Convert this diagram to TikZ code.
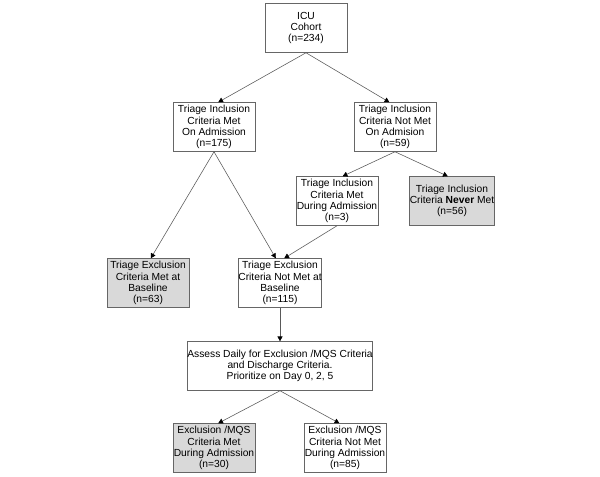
\documentclass[tikz,border=0pt]{standalone}
\usepackage{fontspec}
\setmainfont{Liberation Sans}
\usetikzlibrary{arrows.meta}

\begin{document}
\begin{tikzpicture}[x=0.025cm, y=-0.025cm,
  box/.style={draw=gray!80!black, fill=white, line width=0.5pt, minimum width=2.05cm, minimum height=1.22cm,
    inner sep=0pt, align=center, font=\fontsize{7.3}{8}\selectfont},
  shaded/.style={box, fill=gray!30},
  arr/.style={draw=black!65, line width=0.4pt, -{Triangle[length=3.4pt,width=3.6pt,color=black]}}]
  \useasboundingbox (0,0) rectangle (600,476);
  % boxes, coordinates in pixels of the original figure
  \node[box] (icu) at (306,28) {ICU\\Cohort\\(n=234)};
  \node[box] (inmet) at (214,127) {Triage Inclusion\\Criteria Met\\On Admission\\(n=175)};
  \node[box] (innot) at (395,127) {Triage Inclusion\\Criteria Not Met\\On Admision\\(n=59)};
  \node[box] (indur) at (337,201) {Triage Inclusion\\Criteria Met\\During Admission\\(n=3)};
  \node[shaded] (innever) at (452,201) {Triage Inclusion\\Criteria \textbf{Never} Met\\(n=56)};
  \node[shaded] (exmet) at (148,283) {Triage Exclusion\\Criteria Met at\\Baseline\\(n=63)};
  \node[box] (exnot) at (280,283) {Triage Exclusion\\Criteria Not Met at\\Baseline\\(n=115)};
  \node[box, minimum width=4.5cm] (assess) at (280,366) {Assess Daily for Exclusion /MQS Criteria\\and Discharge Criteria.\\Prioritize on Day 0, 2, 5};
  \node[shaded] (mqsmet) at (214,448) {Exclusion /MQS\\Criteria Met\\During Admission\\(n=30)};
  \node[box] (mqsnot) at (345,448) {Exclusion /MQS\\Criteria Not Met\\During Admission\\(n=85)};
  % connectors
  \draw[arr] (icu.south) -- ([xshift=3]inmet.north);
  \draw[arr] (icu.south) -- ([xshift=-4]innot.north);
  \draw[arr] (inmet.south) -- ([xshift=2]exmet.north);
  \draw[arr] (inmet.south) -- ([xshift=-3]exnot.north);
  \draw[arr] (innot.south) -- ([xshift=4]indur.north);
  \draw[arr] (innot.south) -- ([xshift=-3]innever.north);
  \draw[arr] (indur.south) -- ([xshift=3]exnot.north);
  \draw[arr] (exnot.south) -- (assess.north);
  \draw[arr] (assess.south) -- ([xshift=3]mqsmet.north);
  \draw[arr] (assess.south) -- ([xshift=-4]mqsnot.north);
\end{tikzpicture}
\end{document}
